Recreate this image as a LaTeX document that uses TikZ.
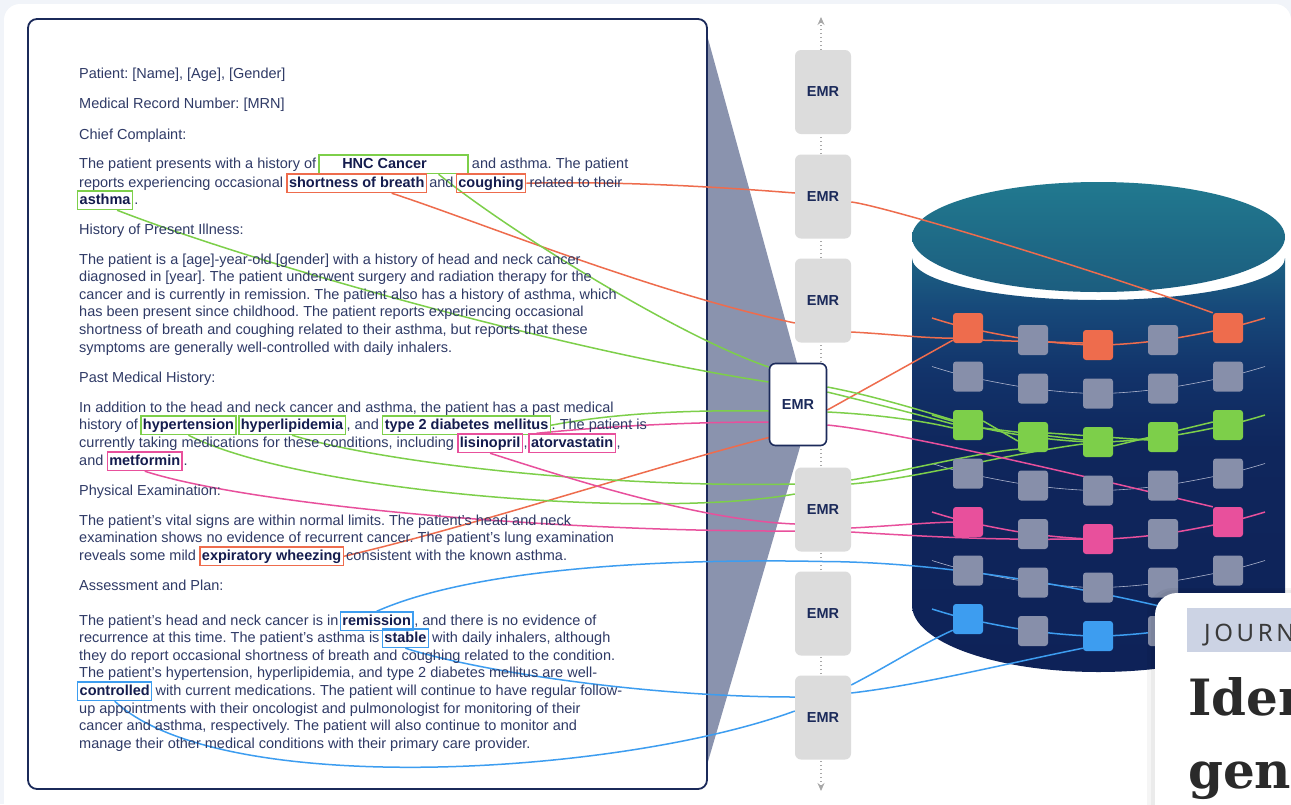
\documentclass[tikz,border=0pt]{standalone}
\usepackage{fontspec}
\setmainfont{Liberation Sans}
\newfontfamily\titlefont{DejaVu Serif}
\newfontfamily\tagfont[LetterSpace=15]{Noto Sans}
\usetikzlibrary{arrows.meta,calc}
\frenchspacing
\definecolor{bgc}{HTML}{F1F4F9}
\definecolor{navy}{HTML}{1B2A5A}
\definecolor{bodyc}{HTML}{2F3A66}
\definecolor{hlc}{HTML}{141C4E}
\definecolor{grn}{HTML}{7DCF4A}
\definecolor{orn}{HTML}{EE6C4D}
\definecolor{pnk}{HTML}{E8509C}
\definecolor{blu}{HTML}{3D9DF0}
\definecolor{emrg}{HTML}{DCDCDC}
\definecolor{trapc}{HTML}{8A93AE}
\definecolor{sqg}{HTML}{878FAA}
\definecolor{thrg}{HTML}{AEB5CE}
\definecolor{cylT}{HTML}{1C6283}
\definecolor{cylMb}{HTML}{17497A}
\definecolor{cylM}{HTML}{12336A}
\definecolor{cylDb}{HTML}{0F265C}
\definecolor{cylD}{HTML}{0E2258}
\definecolor{ellT}{HTML}{21798F}
\definecolor{ellB}{HTML}{1C5D7F}
\definecolor{tagbg}{HTML}{CCD3E4}
\definecolor{tagtext}{HTML}{3A3A3A}
\definecolor{ttl}{HTML}{2A2A2A}
\definecolor{dotc}{HTML}{A8A8A8}
\pgfdeclareverticalshading{cylbody}{100bp}{color(0bp)=(cylD); color(25bp)=(cylD); color(52bp)=(cylDb); color(61bp)=(cylM); color(69bp)=(cylMb); color(75bp)=(cylT); color(100bp)=(cylT)}
\pgfdeclarelayer{bgl}
\pgfdeclarelayer{linel}
\pgfdeclarelayer{topl}
\pgfsetlayers{bgl,linel,main,topl}
\newcommand\sqrow[7]{%
  \node[sq,fill=#3] (s#11) at (968,#2) {};
  \node[sq,fill=#4] (s#12) at (1033,#2+12) {};
  \node[sq,fill=#5] (s#13) at (1098,#2+17) {};
  \node[sq,fill=#6] (s#14) at (1163,#2+12) {};
  \node[sq,fill=#7] (s#15) at (1228,#2) {};
}
\newcommand\rowthread[3]{%
  \draw[#3] plot[smooth, tension=0.55] coordinates {(932,#2-10) (s#11) (s#12) (s#13) (s#14) (s#15) (1265,#2-10)};
}
\begin{document}
\begin{tikzpicture}[x=1pt,y=-1pt,
  txt/.style={inner sep=0pt, anchor=base west, font=\fontsize{14.5pt}{17pt}\selectfont, text=bodyc},
  hl/.style={draw=#1, line width=1.4pt, inner xsep=2pt, inner ysep=2.5pt, text height=10.5pt, text depth=3pt, anchor=base west, font=\fontsize{14.5pt}{17pt}\selectfont\bfseries, text=hlc},
  emrbox/.style={fill=emrg, rounded corners=6pt, minimum width=56pt, minimum height=84pt, inner sep=0pt, font=\fontsize{14.5pt}{16pt}\selectfont\bfseries, text=navy},
  emrwhite/.style={emrbox, fill=white, draw=navy, line width=1.6pt, minimum width=57pt, minimum height=82pt},
  sq/.style={minimum size=30pt, inner sep=0pt, rounded corners=3pt},
  conn/.style={line width=1.5pt},
  thin thread/.style={draw=thrg, line width=0.6pt},
  color thread/.style={draw=#1, line width=1.5pt},
  dotline/.style={draw=dotc, line width=1.2pt, dash pattern=on 1.2pt off 2.8pt, {Stealth[length=8pt,width=7pt]}-{Stealth[length=8pt,width=7pt]}}
]
\useasboundingbox (0,0) rectangle (1291,804);

% ---------- text ----------
\node[txt] (l1) at (79,78) {Patient: [Name], [Age], [Gender]};
\node[txt] (l2) at (79,108) {Medical Record Number: [MRN]};
\node[txt] (l3) at (79,139) {Chief Complaint:};
\node[txt] (l4a) at (79,168) {The patient presents with a history of};
\node[hl=grn, minimum width=149pt] (hnc) at ([xshift=2pt]l4a.base east) {HNC Cancer\hspace*{18pt}};
\node[txt] (l4b) at ([xshift=3pt]hnc.base east) {and asthma. The patient};
\node[txt] (l5a) at (79,187) {reports experiencing occasional};
\node[hl=orn] (sob) at ([xshift=3pt]l5a.base east) {shortness of breath};
\node[txt] (l5b) at ([xshift=2pt]sob.base east) {and};
\node[hl=orn] (cough) at ([xshift=2pt]l5b.base east) {coughing};
\node[txt] (l5c) at ([xshift=3pt]cough.base east) {related to their};
\node[hl=grn] (asth) at (77,204) {asthma};
\node[txt] (l6b) at ([xshift=1pt]asth.base east) {.};
\node[txt] (l7) at (79,234) {History of Present Illness:};
\node[txt] (l8a) at (79,264) {The patient is a [age]-year-old [gender] with a history of head and neck cancer};
\node[txt] (l8b) at (79,281) {diagnosed in [year]. The patient underwent surgery and radiation therapy for the};
\node[txt] (l8c) at (79,299) {cancer and is currently in remission. The patient also has a history of asthma, which};
\node[txt] (l8d) at (79,316) {has been present since childhood. The patient reports experiencing occasional};
\node[txt] (l8e) at (79,334) {shortness of breath and coughing related to their asthma, but reports that these};
\node[txt] (l8f) at (79,352) {symptoms are generally well-controlled with daily inhalers.};
\node[txt] (l9) at (79,382) {Past Medical History:};
\node[txt] (l10a) at (79,412) {In addition to the head and neck cancer and asthma, the patient has a past medical};
\node[txt] (l10b) at (79,429) {history of};
\node[hl=grn] (htn) at ([xshift=2pt]l10b.base east) {hypertension};
\node[hl=grn] (hld) at ([xshift=1.5pt]htn.base east) {hyperlipidemia};
\node[txt] (l10c) at ([xshift=0.5pt]hld.base east) {, and};
\node[hl=grn] (t2dm) at ([xshift=3pt]l10c.base east) {type 2 diabetes mellitus};
\node[txt] (l10d) at ([xshift=0.5pt]t2dm.base east) {. The patient is};
\node[txt] (l10e) at (79,447) {currently taking medications for these conditions, including};
\node[hl=pnk] (lis) at ([xshift=3pt]l10e.base east) {lisinopril};
\node[txt] (l10f) at ([xshift=0.5pt]lis.base east) {,};
\node[hl=pnk] (ator) at ([xshift=0.5pt]l10f.base east) {atorvastatin};
\node[txt] (l10g) at ([xshift=0.5pt]ator.base east) {,};
\node[txt] (l10h) at (79,465) {and};
\node[hl=pnk] (met) at ([xshift=3pt]l10h.base east) {metformin};
\node[txt] (l10i) at ([xshift=0.5pt]met.base east) {.};
\node[txt] (l11) at (79,495) {Physical Examination:};
\node[txt] (l12a) at (79,525) {The patient's vital signs are within normal limits. The patient's head and neck};
\node[txt] (l12b) at (79,542) {examination shows no evidence of recurrent cancer. The patient's lung examination};
\node[txt] (l12c) at (79,560) {reveals some mild};
\node[hl=orn] (wheeze) at ([xshift=3pt]l12c.base east) {expiratory wheezing};
\node[txt] (l12d) at ([xshift=2pt]wheeze.base east) {consistent with the known asthma.};
\node[txt] (l13) at (79,590) {Assessment and Plan:};
\node[txt] (l14a) at (79,625) {The patient's head and neck cancer is in};
\node[hl=blu] (remis) at ([xshift=1pt]l14a.base east) {remission};
\node[txt] (l14b) at ([xshift=0.5pt]remis.base east) {, and there is no evidence of};
\node[txt] (l14c) at (79,642) {recurrence at this time. The patient's asthma is};
\node[hl=blu] (stab) at ([xshift=2pt]l14c.base east) {stable};
\node[txt] (l14d) at ([xshift=3pt]stab.base east) {with daily inhalers, although};
\node[txt] (l14e) at (79,660) {they do report occasional shortness of breath and coughing related to the condition.};
\node[txt] (l14f) at (79,677) {The patient's hypertension, hyperlipidemia, and type 2 diabetes mellitus are well-};
\node[hl=blu] (ctrl) at (77,695) {controlled};
\node[txt] (l14g) at ([xshift=3pt]ctrl.base east) {with current medications. The patient will continue to have regular follow-};
\node[txt] (l14h) at (79,713) {up appointments with their oncologist and pulmonologist for monitoring of their};
\node[txt] (l14i) at (79,730) {cancer and asthma, respectively. The patient will also continue to monitor and};
\node[txt] (l14j) at (79,748) {manage their other medical conditions with their primary care provider.};

% ---------- EMR column ----------
\node[emrbox] (emr1) at (823,92) {EMR};
\node[emrbox] (emr2) at (823,196.5) {EMR};
\node[emrbox] (emr3) at (823,300.5) {EMR};
\node[emrwhite] (emrw) at (798,404.5) {EMR};
\node[emrbox] (emr4) at (823,509.5) {EMR};
\node[emrbox] (emr5) at (823,613.5) {EMR};
\node[emrbox] (emr6) at (823,717.5) {EMR};
\coordinate (dtop) at (821,17);
\coordinate (dbot) at (821,791);
\coordinate (gap45) at ($(emr4.south)!0.5!(emr5.north)$);

% ---------- squares ----------
\sqrow{1}{328}{orn}{sqg}{orn}{sqg}{orn}
\sqrow{2}{376.5}{sqg}{sqg}{sqg}{sqg}{sqg}
\sqrow{3}{425}{grn}{grn}{grn}{grn}{grn}
\sqrow{4}{473.5}{sqg}{sqg}{sqg}{sqg}{sqg}
\sqrow{5}{522}{pnk}{sqg}{pnk}{sqg}{pnk}
\sqrow{6}{570.5}{sqg}{sqg}{sqg}{sqg}{sqg}
\sqrow{7}{619}{blu}{sqg}{blu}{sqg}{blu}

% ---------- background layer ----------
\begin{pgfonlayer}{bgl}
\fill[bgc] (0,0) rectangle (1291,804);
\fill[white, rounded corners=16pt] (4,4) rectangle (1291,840);
\fill[trapc] (707,35) -- (797,363) -- (800,447) -- (707,765) -- cycle;
\draw[navy, line width=1.8pt, rounded corners=9pt] (28,19) rectangle (707,789);
% cylinder
\shade[shading=cylbody] (912,258) -- (912,605) arc[start angle=180, end angle=360, x radius=186.5pt, y radius=67pt] -- (1285,258) arc[start angle=0, end angle=-180, x radius=186.5pt, y radius=42pt] -- cycle;
\shade[top color=ellT, bottom color=ellB] (1098.5,237) ellipse [x radius=186.5pt, y radius=55pt];
% threads
\rowthread{1}{328}{color thread=orn}
\rowthread{2}{376.5}{thin thread}
\rowthread{3}{425}{color thread=grn}
\rowthread{4}{473.5}{thin thread}
\rowthread{5}{522}{color thread=pnk}
\rowthread{6}{570.5}{thin thread}
\rowthread{7}{619}{color thread=blu}
\draw[color thread=orn] ([yshift=3pt]s11.south east) -- ([yshift=2pt]s13.west);
\draw[color thread=grn] ([yshift=-3pt]s31.east) -- ([yshift=2pt]s33.west);
\draw[color thread=grn] ([yshift=4pt]s32.east) -- ([yshift=-3pt]s34.west);
\draw[color thread=grn] ([yshift=-4pt]s33.east) -- ([yshift=3pt]s35.west);
\draw[color thread=grn] ([yshift=4pt]s31.east) -- ([yshift=-4pt]s32.west);
% dotted axis
\draw[dotline] (dbot) -- (dtop);
\end{pgfonlayer}

% ---------- connectors ----------
\begin{pgfonlayer}{linel}
% orange
\draw[conn, orn] (cough.east) .. controls (620,181) and (720,187) .. ([yshift=3.5pt]emr2.west);
\draw[conn, orn] ([yshift=-5.5pt]emr2.east) .. controls (880,205) and (1080,265) .. (s15.north west);
\draw[conn, orn] ([xshift=35pt]sob.south) .. controls (480,222) and (650,292) .. ([yshift=-22.5pt]emr3.west);
\draw[conn, orn] ([yshift=-31.5pt]emr3.east) .. controls (890,334) and (920,338) .. ([yshift=5pt]s11.south west);
\draw[conn, orn] (wheeze.east) .. controls (470,527) and (650,468) .. ([yshift=-33pt]emrw.west);
\draw[conn, orn] ([yshift=-5.5pt]emrw.east) -- ([yshift=3pt]s11.south west);
% green
\draw[conn, grn] ([xshift=45pt]hnc.south) .. controls (510,232) and (680,337) .. ([yshift=37.5pt]emrw.west);
\draw[conn, grn] ([yshift=17.5pt]emrw.east) .. controls (870,395) and (920,410) .. ([yshift=5pt]s31.west);
\draw[conn, grn] ([xshift=12pt]asth.south) .. controls (250,262) and (560,350) .. ([yshift=22.5pt]emrw.west);
\draw[conn, grn] ([yshift=12.5pt]emrw.east) .. controls (880,405) and (920,415) .. ([yshift=1pt]s31.west);
\draw[conn, grn] (t2dm.east) .. controls (620,412) and (700,410) .. ([yshift=-6.5pt]emrw.west);
\draw[conn, grn] ([yshift=-7.5pt]emrw.east) .. controls (870,414) and (920,420) .. ([yshift=-3pt]s31.west);
\draw[conn, grn] (hld.south) .. controls (380,462) and (600,488) .. ([yshift=25.5pt]emr4.west);
\draw[conn, grn] ([yshift=29.5pt]emr4.east) .. controls (900,472) and (980,452) .. ([yshift=3pt]s32.south west);
\draw[conn, grn] (htn.south) .. controls (300,492) and (650,520) .. ([yshift=15.5pt]emr4.west);
\draw[conn, grn] ([yshift=25.5pt]emr4.east) .. controls (920,478) and (1000,455) .. ([yshift=-2pt]s33.west);
% pink
\draw[conn, pnk] (lis.south) .. controls (580,482) and (700,520) .. ([yshift=-14.5pt]emr4.west);
\draw[conn, pnk] ([yshift=-18.5pt]emr4.east) .. controls (890,526) and (920,523) .. (s51.west);
\draw[conn, pnk] (met.south) .. controls (250,505) and (550,532) .. ([yshift=-21.5pt]emr4.west);
\draw[conn, pnk] ([yshift=-22.5pt]emr4.east) .. controls (950,538) and (1000,540) .. (s53.west);
\draw[conn, pnk] ([xshift=8pt]ator.north west) .. controls (620,425) and (700,422) .. ([yshift=-17.5pt]emrw.west);
\draw[conn, pnk] ([yshift=-20.5pt]emrw.east) .. controls (900,432) and (1100,480) .. (s55.north west);
% blue
\draw[conn, blu] (remis.north) .. controls (470,570) and (650,558) .. (gap45) .. controls (950,562) and (1100,590) .. (s75.west);
\draw[conn, blu] (stab.south) .. controls (480,672) and (650,697) .. ([yshift=20.5pt]emr6.west);
\draw[conn, blu] ([yshift=32.5pt]emr6.east) .. controls (890,665) and (920,645) .. ([yshift=4pt]s71.south west);
\draw[conn, blu] (ctrl.south) .. controls (220,800) and (620,775) .. ([yshift=6.5pt]emr6.west);
\draw[conn, blu] ([yshift=24.5pt]emr6.east) .. controls (920,685) and (1000,665) .. ([yshift=3pt]s73.south west);
\end{pgfonlayer}

% ---------- article card ----------
\begin{pgfonlayer}{topl}
\fill[black, opacity=0.04, rounded corners=26pt] (1147,588) rectangle (1330,840);
\fill[black, opacity=0.04, rounded corners=24pt] (1151,590) rectangle (1330,840);
\fill[white, rounded corners=22pt] (1155,593) rectangle (1330,840);
\fill[tagbg] (1187,608) rectangle (1300,652);
\node[anchor=base west, inner sep=0pt, font=\fontsize{24pt}{28pt}\selectfont\tagfont, text=tagtext] (jtag) at (1204,641) {JOURN};
\node[anchor=base west, inner sep=0pt, font=\fontsize{50pt}{60pt}\selectfont\titlefont\bfseries, text=ttl] (tl1) at (1188,715) {Iden};
\node[anchor=base west, inner sep=0pt, font=\fontsize{50pt}{60pt}\selectfont\titlefont\bfseries, text=ttl] (tl2) at (1188,788) {gene};
\end{pgfonlayer}
\end{tikzpicture}
\end{document}
